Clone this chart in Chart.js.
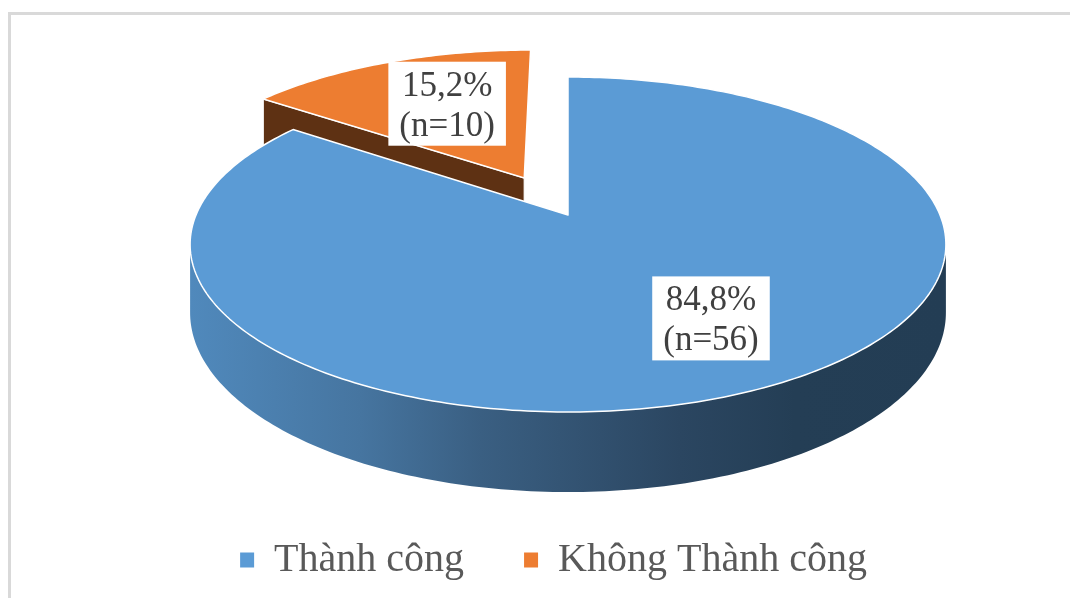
<!DOCTYPE html>
<html>
<head>
<meta charset="utf-8">
<script src="https://cdn.jsdelivr.net/npm/chart.js@4/dist/chart.umd.min.js"></script>
<style>
html, body { margin: 0; padding: 0; background: #fff; }
#wrap { position: relative; width: 1070px; height: 598px; overflow: hidden; }
#frame { position: absolute; left: 8px; top: 12px; width: 1200px; height: 800px;
         border-left: 3px solid #d9d9d9; border-top: 3px solid #d9d9d9; }
canvas { position: absolute; left: 0; top: 0; }
</style>
</head>
<body>
<div id="wrap">
  <div id="frame"></div>
  <canvas id="myChart" width="1070" height="598"></canvas>
</div>
<script>
// ///////////// data
const categories = ['Thành công', 'Không Thành công'];
const counts = [56, 10];
const sliceColors = ['#5B9BD5', '#ED7D31'];

const serif = "'Liberation Serif', 'Times New Roman', serif";

// ///////////// 3d look (styling only)
const view = { cx: 568, cy: 215, sx: 372, sy: 162.3, p: 0.176, depth: 66 };
const explode = [0, 0.2675];
const cutColors = ['#2E5476', '#5E3113'];
const labelRadius = [0.70, 0.53];
const labelNudge = [[9, -10], [0, -9]];

function proj(u, v, down) {
    const w = 1 - view.p * v;
    return {
        x: view.cx + view.sx * u / w,
        y: view.cy + view.sy * v / w + (down ? view.depth / w : 0)
    };
}

function arcPoints(c, a0, a1, down) {
    const pts = [];
    const n = Math.max(2, Math.ceil(Math.abs(a1 - a0) * 60));
    for (let i = 0; i <= n; i++) {
        const a = a0 + (a1 - a0) * i / n;
        pts.push(proj(c.u + Math.cos(a), c.v + Math.sin(a), down));
    }
    return pts;
}

function poly(ctx, pts) {
    ctx.beginPath();
    ctx.moveTo(pts[0].x, pts[0].y);
    for (let i = 1; i < pts.length; i++) ctx.lineTo(pts[i].x, pts[i].y);
    ctx.closePath();
}

function wallGradient(ctx) {
    const g = ctx.createLinearGradient(190, 0, 946, 0);
    g.addColorStop(0, '#5089BC');
    g.addColorStop(0.225, '#4675A0');
    g.addColorStop(0.384, '#3A5F82');
    g.addColorStop(0.648, '#2B4661');
    g.addColorStop(0.8, '#243E55');
    g.addColorStop(1, '#233D54');
    return g;
}

function sliceCenter(i, s, e) {
    const mid = (s + e) / 2;
    return { u: explode[i] * Math.cos(mid), v: explode[i] * Math.sin(mid) };
}

const pie3d = {
    id: 'pie3d',
    beforeDatasetsDraw(chart) {
        const ctx = chart.ctx;
        const arcs = chart.getDatasetMeta(0).data;
        const vis0 = Math.asin(view.p), vis1 = Math.PI - Math.asin(view.p);
        // back slice first
        const order = arcs.map((a, i) => i).sort((a, b) => explode[b] - explode[a]);
        ctx.save();
        ctx.lineJoin = 'round';
        order.forEach(i => {
            const {startAngle: s, endAngle: e} = arcs[i].getProps(['startAngle', 'endAngle'], true);
            const c = sliceCenter(i, s, e);
            const top0 = proj(c.u, c.v, false), bot0 = proj(c.u, c.v, true);

            // cut faces that look towards us
            [[s, Math.sin(s), -Math.cos(s)], [e, -Math.sin(e), Math.cos(e)]].forEach(([a, nu, nv]) => {
                if (nv <= 0.05) return;
                const t1 = proj(c.u + Math.cos(a), c.v + Math.sin(a), false);
                const b1 = proj(c.u + Math.cos(a), c.v + Math.sin(a), true);
                poly(ctx, [top0, t1, b1, bot0]);
                ctx.fillStyle = cutColors[i];
                ctx.fill();
                ctx.strokeStyle = '#fff';
                ctx.lineWidth = 1.2;
                ctx.stroke();
            });

            // outer wall
            [-2 * Math.PI, 0, 2 * Math.PI].forEach(sh => {
                const lo = Math.max(s, vis0 + sh), hi = Math.min(e, vis1 + sh);
                if (hi <= lo) return;
                const pts = arcPoints(c, lo, hi, false).concat(arcPoints(c, hi, lo, true));
                poly(ctx, pts);
                ctx.fillStyle = i === 0 ? wallGradient(ctx) : cutColors[i];
                ctx.fill();
            });

            // top face
            poly(ctx, [top0].concat(arcPoints(c, s, e, false)));
            ctx.fillStyle = sliceColors[i];
            ctx.fill();
            ctx.strokeStyle = '#fff';
            ctx.lineWidth = 1.5;
            ctx.stroke();
        });
        ctx.restore();
        return false;
    },
    // datasets drawing is cancelled above, so the labels go here
    afterDraw(chart) {
        const ctx = chart.ctx;
        const arcs = chart.getDatasetMeta(0).data;
        const total = counts.reduce((a, b) => a + b, 0);
        ctx.save();
        ctx.font = '35px ' + serif;
        ctx.textAlign = 'center';
        ctx.textBaseline = 'alphabetic';
        arcs.forEach((arc, i) => {
            const {startAngle: s, endAngle: e} = arc.getProps(['startAngle', 'endAngle'], true);
            const mid = (s + e) / 2;
            const t = explode[i] + labelRadius[i];
            const pt = proj(t * Math.cos(mid), t * Math.sin(mid), false);
            const x = pt.x + labelNudge[i][0], y = pt.y + labelNudge[i][1];
            const line1 = (counts[i] / total * 100).toFixed(1).replace('.', ',') + '%';
            const line2 = '(n=' + counts[i] + ')';
            const w = Math.max(ctx.measureText(line1).width, ctx.measureText(line2).width) + 22;
            const h = 84;
            ctx.fillStyle = '#fff';
            ctx.fillRect(x - w / 2, y - h / 2, w, h);
            ctx.fillStyle = '#404040';
            ctx.fillText(line1, x, y - h / 2 + 34);
            ctx.fillText(line2, x, y - h / 2 + 74);
        });
        ctx.restore();
    }
};

// ///////////// create the pie
const ctx = document.getElementById('myChart').getContext('2d');
const myChart = new Chart(ctx, {
    type: 'pie',
    data: {
        labels: categories,
        datasets: [{
            data: counts,
            backgroundColor: sliceColors,
            borderColor: sliceColors,
            borderWidth: 0
        }]
    },
    options: {
        responsive: false,
        animation: false,
        events: [],
        layout: { padding: { left: 37, right: 0, top: 0, bottom: 8 } },
        plugins: {
            tooltip: { enabled: false },
            legend: {
                position: 'bottom',
                labels: {
                    color: '#595959',
                    font: { family: serif, size: 40 },
                    boxWidth: 14,
                    boxHeight: 15,
                    padding: 60
                }
            }
        }
    },
    plugins: [pie3d]
});
</script>
</body>
</html>
